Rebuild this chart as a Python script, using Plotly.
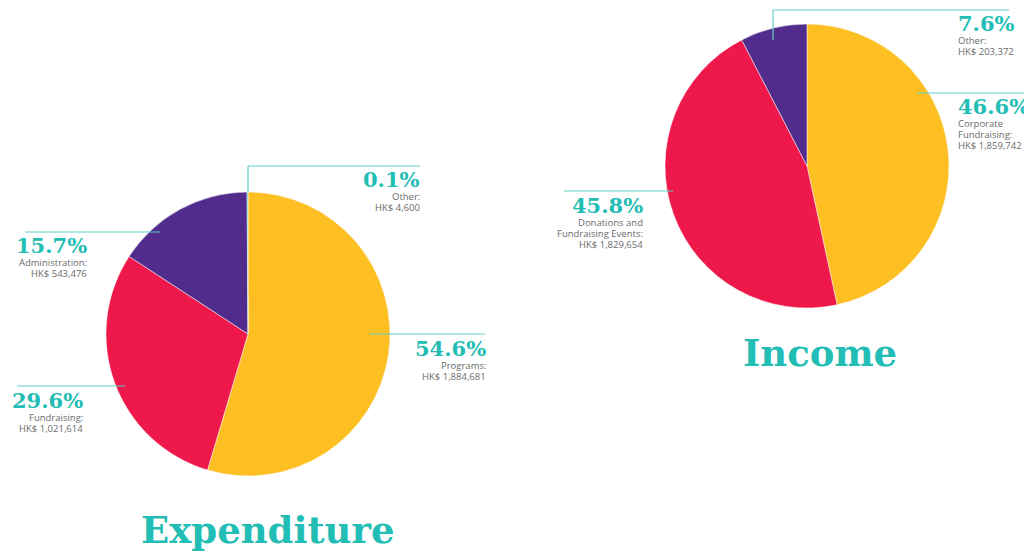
import plotly.graph_objects as go

# ---- data ----
exp_labels = ["Programs", "Fundraising", "Administration", "Other"]
exp_pct = [54.6, 29.6, 15.7, 0.1]
exp_amount = ["HK$ 1,884,681", "HK$ 1,021,614", "HK$ 543,476", "HK$ 4,600"]

inc_labels = ["Corporate Fundraising", "Donations and Fundraising Events", "Other"]
inc_pct = [46.6, 45.8, 7.6]
inc_amount = ["HK$ 1,859,742", "HK$ 1,829,654", "HK$ 203,372"]

exp_colors = ["#FDBF22", "#EE184A", "#512C8C", "#2BC3BA"]
inc_colors = ["#FDBF22", "#EE184A", "#512C8C"]

W, H = 1024, 551
TEAL = "#22BDB4"
LINE = "#5FD0C9"
GREY = "#6a6a6a"

def px(x, y):
    return x / W, 1 - y / H

fig = go.Figure()

def dom(cx, cy, r):
    return dict(x=[(cx - r) / W, (cx + r) / W], y=[1 - (cy + r) / H, 1 - (cy - r) / H])

fig.add_trace(go.Pie(labels=exp_labels, values=exp_pct, sort=False, direction="clockwise",
                     rotation=0, textinfo="none", hoverinfo="label+percent",
                     marker=dict(colors=exp_colors, line=dict(color="white", width=0.5)),
                     domain=dom(248, 334, 142), showlegend=False))
fig.add_trace(go.Pie(labels=inc_labels, values=inc_pct, sort=False, direction="clockwise",
                     rotation=0, textinfo="none", hoverinfo="label+percent",
                     marker=dict(colors=inc_colors, line=dict(color="white", width=0.5)),
                     domain=dom(807, 166, 142), showlegend=False))

annotations = []
shapes = []

def line(x0, y0, x1, y1):
    a = px(x0, y0); b = px(x1, y1)
    shapes.append(dict(type="line", xref="paper", yref="paper", x0=a[0], y0=a[1], x1=b[0], y1=b[1],
                       line=dict(color=LINE, width=1.2)))

def label(x, ytop, pct, lines, align):
    xa = "right" if align == "right" else "left"
    p = px(x, ytop - 6)
    annotations.append(dict(xref="paper", yref="paper", x=p[0], y=p[1], xanchor=xa, yanchor="top",
                            text="<b>%s%%</b>" % pct, showarrow=False, align=align, borderpad=0,
                            font=dict(family="DejaVu Serif", size=21, color=TEAL)))
    for i, ln in enumerate(lines):
        p2 = px(x, ytop + 17 + 11 * i)
        annotations.append(dict(xref="paper", yref="paper", x=p2[0], y=p2[1], xanchor=xa, yanchor="top",
                                text=ln, showarrow=False, align=align, borderpad=0,
                                font=dict(family="Open Sans", size=9.5, color=GREY)))

# expenditure labels
line(25, 232, 160, 232)
label(88, 238, exp_pct[2], ["Administration:", exp_amount[2]], "right")
line(17, 386, 125, 386)
label(84, 393, exp_pct[1], ["Fundraising:", exp_amount[1]], "right")
line(248, 166, 420, 166)
line(248, 166, 248, 192)
label(421, 172, exp_pct[3], ["Other:", exp_amount[3]], "right")
line(370, 334, 485, 334)
label(487, 341, exp_pct[0], ["Programs:", exp_amount[0]], "right")

# income labels
line(564, 191, 673, 191)
label(644, 198, inc_pct[1], ["Donations and", "Fundraising Events:", inc_amount[1]], "right")
line(773, 10, 1009, 10)
line(773, 10, 773, 40)
label(957, 16, inc_pct[2], ["Other:", inc_amount[2]], "left")
line(917, 93, 1024, 93)
label(957, 99, inc_pct[0], ["Corporate", "Fundraising:", inc_amount[0]], "left")

# titles
t = px(268, 530)
annotations.append(dict(xref="paper", yref="paper", x=t[0], y=t[1], xanchor="center", yanchor="middle",
                        text="<b>Expenditure</b>", showarrow=False,
                        font=dict(family="DejaVu Serif", size=37, color=TEAL)))
t = px(820, 353)
annotations.append(dict(xref="paper", yref="paper", x=t[0], y=t[1], xanchor="center", yanchor="middle",
                        text="<b>Income</b>", showarrow=False,
                        font=dict(family="DejaVu Serif", size=37, color=TEAL)))

fig.update_layout(width=W, height=H, margin=dict(l=0, r=0, t=0, b=0),
                  paper_bgcolor="white", plot_bgcolor="white",
                  annotations=annotations, shapes=shapes)

fig.write_html("out.html", config={"displayModeBar": False},
               post_script="document.body.style.margin='0';document.body.style.overflow='hidden';")
